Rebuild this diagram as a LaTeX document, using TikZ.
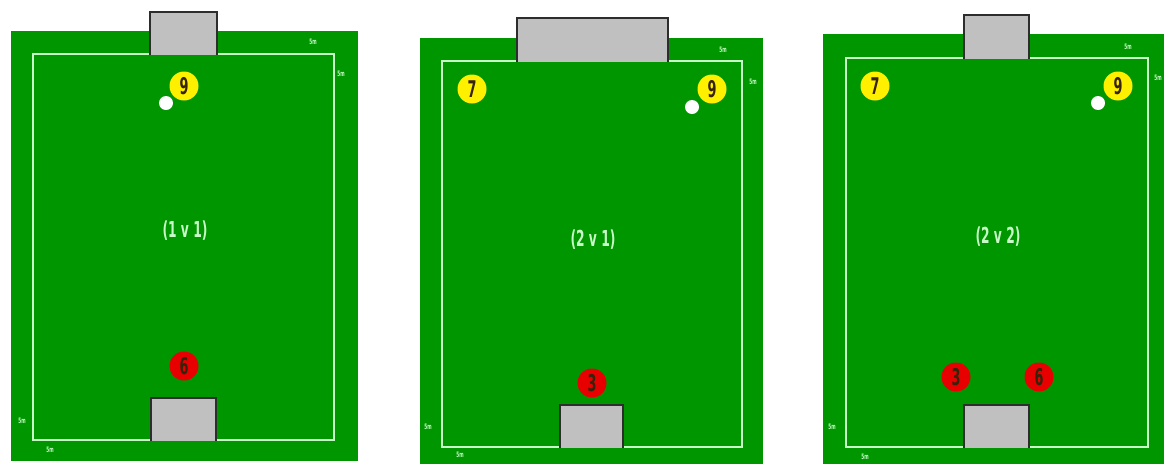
\documentclass[tikz,border=0pt]{standalone}
\usepackage{fontspec}
\newfontfamily\cond{DejaVu Sans Condensed}
\usetikzlibrary{positioning}
\definecolor{grass}{RGB}{0,150,0}
\definecolor{chalk}{RGB}{200,250,200}
\definecolor{post}{RGB}{192,192,192}
\definecolor{postline}{RGB}{45,45,45}
\definecolor{shirtA}{RGB}{255,240,0}
\definecolor{shirtB}{RGB}{232,0,0}
\definecolor{digit}{RGB}{55,35,10}
\newcommand{\slim}[1]{\scalebox{0.62}[1]{#1}}
\begin{document}
\begin{tikzpicture}[x=1pt, y=-1pt,
  pitch/.style={fill=grass},
  inner/.style={draw=chalk, line width=2pt},
  goalbox/.style={fill=post},
  goaledge/.style={draw=postline, line width=1.4pt},
  attack/.style={circle, fill=shirtA, minimum size=29pt, inner sep=0pt, text=digit, font=\cond\bfseries\fontsize{23}{23}\selectfont},
  defend/.style={attack, fill=shirtB},
  ball/.style={circle, fill=white, minimum size=14pt, inner sep=0pt},
  tag/.style={text=chalk, inner sep=0pt, font=\cond\bfseries\fontsize{7.5}{7.5}\selectfont},
  score/.style={text=chalk, inner sep=0pt, font=\cond\bfseries\fontsize{22}{22}\selectfont}]
\useasboundingbox[fill=white] (0,0) rectangle (1164,464);
% pitch 1 (1 v 1)
\fill[pitch] (11,31) rectangle (358,461);
\draw[inner] (33,54) rectangle (334,440);
\fill[goalbox] (150,12) rectangle (217,55);
\draw[goaledge] (150,55) |- (217,12) -- (217,55);
\fill[goalbox] (151,398) rectangle (216,441);
\draw[goaledge] (151,441) |- (216,398) -- (216,441);
\node[attack] (oneA9) at (184,86) {\slim{9}};
\node[ball] (oneBall) at (166,103) {};
\node[defend] (oneD6) at (184,366) {\slim{6}};
\node[score] (oneScore) at (185,231) {\slim{(1 v 1)}};
\node[tag] (oneTop) at (313,42) {\slim{5m}};
\node[tag] (oneRight) at (341,74) {\slim{5m}};
\node[tag] (oneLeft) at (22,421) {\slim{5m}};
\node[tag] (oneBottom) at (50,450) {\slim{5m}};
% pitch 2 (2 v 1)
\fill[pitch] (420,38) rectangle (763,464);
\draw[inner] (442,61) rectangle (742,447);
\fill[goalbox] (517,18) rectangle (668,62);
\draw[goaledge] (517,62) |- (668,18) -- (668,62);
\fill[goalbox] (560,405) rectangle (623,448);
\draw[goaledge] (560,448) |- (623,405) -- (623,448);
\node[attack] (twoA7) at (472,89) {\slim{7}};
\node[attack] (twoA9) at (712,89) {\slim{9}};
\node[ball] (twoBall) at (692,107) {};
\node[defend] (twoD3) at (592,383) {\slim{3}};
\node[score] (twoScore) at (593,240) {\slim{(2 v 1)}};
\node[tag] (twoTop) at (723,50) {\slim{5m}};
\node[tag] (twoRight) at (753,82) {\slim{5m}};
\node[tag] (twoLeft) at (428,427) {\slim{5m}};
\node[tag] (twoBottom) at (460,455) {\slim{5m}};
% pitch 3 (2 v 2)
\fill[pitch] (823,34) rectangle (1164,464);
\draw[inner] (846,58) rectangle (1148,447);
\fill[goalbox] (964,15) rectangle (1029,59);
\draw[goaledge] (964,59) |- (1029,15) -- (1029,59);
\fill[goalbox] (964,405) rectangle (1029,448);
\draw[goaledge] (964,448) |- (1029,405) -- (1029,448);
\node[attack] (threeA7) at (875,86) {\slim{7}};
\node[attack] (threeA9) at (1118,86) {\slim{9}};
\node[ball] (threeBall) at (1098,103) {};
\node[defend] (threeD3) at (956,377) {\slim{3}};
\node[defend] (threeD6) at (1039,377) {\slim{6}};
\node[score] (threeScore) at (998,237) {\slim{(2 v 2)}};
\node[tag] (threeTop) at (1128,47) {\slim{5m}};
\node[tag] (threeRight) at (1158,78) {\slim{5m}};
\node[tag] (threeLeft) at (832,427) {\slim{5m}};
\node[tag] (threeBottom) at (865,457) {\slim{5m}};
\end{tikzpicture}
\end{document}
